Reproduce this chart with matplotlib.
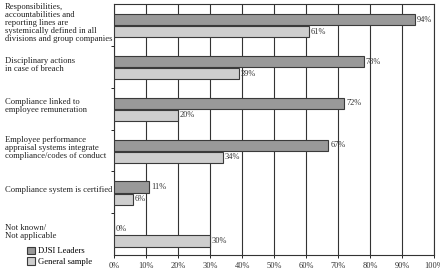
import matplotlib
matplotlib.use("Agg")
import matplotlib.pyplot as plt
import matplotlib.transforms as mtransforms
from matplotlib.patches import Patch

CATEGORIES = [
    "Responsibilities,\naccountabilities and\nreporting lines are\nsystemically defined in all\ndivisions and group companies",
    "Disciplinary actions\nin case of breach",
    "Compliance linked to\nemployee remuneration",
    "Employee performance\nappraisal systems integrate\ncompliance/codes of conduct",
    "Compliance system is certified",
    "Not known/\nNot applicable",
]
DJSI = [94, 78, 72, 67, 11, 0]
GENERAL = [61, 39, 20, 34, 6, 30]
XTICKS = list(range(0, 101, 10))

DARK, LIGHT, EDGE = "#999999", "#cecece", "#3a3a3a"

plt.rcParams["font.family"] = ["Liberation Serif", "DejaVu Serif"]

fig = plt.figure(figsize=(4.4, 2.73), dpi=100)
ax = fig.add_axes([114 / 440, 18 / 273, 320 / 440, 251 / 273])

n = len(CATEGORIES)
h = 0.27
for i in range(n):
    y = i  # 0 at top
    ax.barh(y - h / 2 + 0.01, DJSI[i], height=h, color=DARK, edgecolor=EDGE, lw=0.8, zorder=3)
    ax.barh(y + h / 2 + 0.03, GENERAL[i], height=h, color=LIGHT, edgecolor=EDGE, lw=0.8, zorder=3)
    ax.text(DJSI[i] + 0.6, y - h / 2 + 0.01, f"{DJSI[i]}%", va="center", ha="left",
            fontsize=6, color="#333333", zorder=4)
    ax.text(GENERAL[i] + 0.6, y + h / 2 + 0.03, f"{GENERAL[i]}%", va="center", ha="left",
            fontsize=6, color="#333333", zorder=4)

ax.set_ylim(n - 0.5, -0.5)
ax.set_xlim(0, 100)
ax.set_xticks(XTICKS)
ax.set_xticklabels([f"{t}%" for t in XTICKS], fontsize=6, color="#333333")
ax.set_yticks([i + 0.5 for i in range(n - 1)])
ax.set_yticklabels([])
ax.tick_params(axis="y", length=2, width=0.6)
ax.tick_params(axis="x", length=2, width=0.6, pad=3)
ax.grid(axis="x", color="#333333", lw=0.8, zorder=0)
for s in ax.spines.values():
    s.set_color("#333333")
    s.set_linewidth(0.8)

trans = mtransforms.blended_transform_factory(fig.transFigure, ax.transData)
for i, lbl in enumerate(CATEGORIES):
    ax.text(5 / 440, i - 0.05, lbl, transform=trans, ha="left", va="center",
            fontsize=6.2, linespacing=1.0, color="#222222")

handles = [Patch(facecolor=DARK, edgecolor=EDGE, lw=0.8, label="DJSI Leaders"),
           Patch(facecolor=LIGHT, edgecolor=EDGE, lw=0.8, label="General sample")]
fig.legend(handles=handles, loc="lower left", bbox_to_anchor=(27 / 440, 7 / 273),
           frameon=False, fontsize=6.2, handlelength=0.9, handleheight=0.9,
           handletextpad=0.4, labelspacing=0.25, borderpad=0, borderaxespad=0)

fig.savefig("out.png", dpi=100)
